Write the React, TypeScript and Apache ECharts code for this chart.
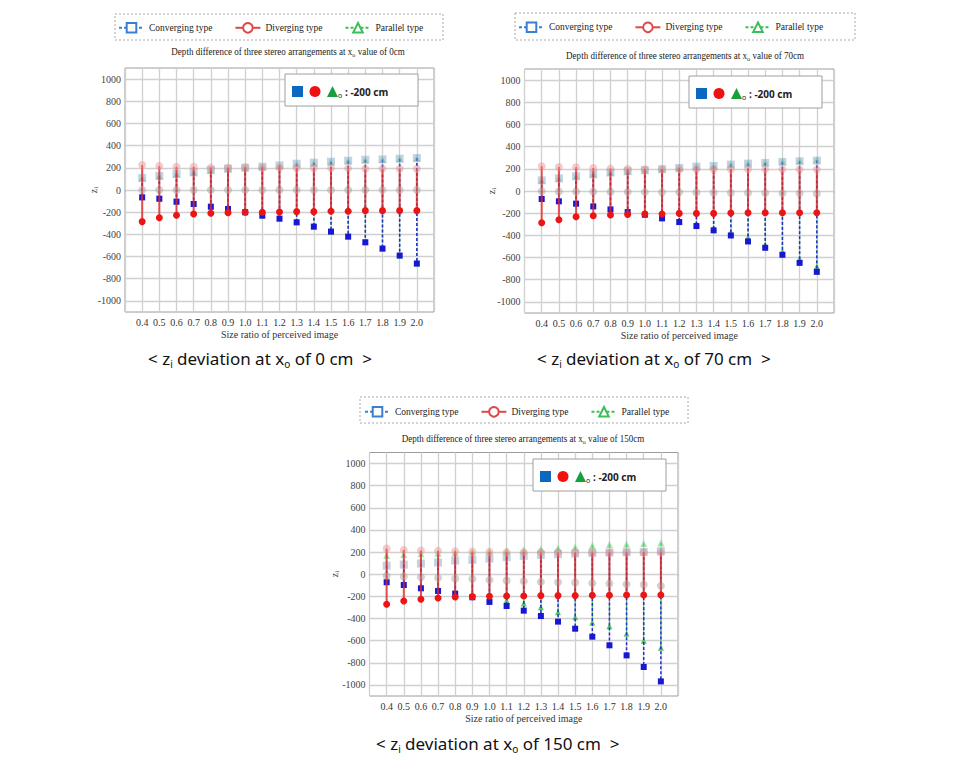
import React, { useEffect, useRef } from 'react';
import * as echarts from 'echarts';

// ---------- data ----------
const RATIOS = [0.4, 0.5, 0.6, 0.7, 0.8, 0.9, 1.0, 1.1, 1.2, 1.3, 1.4, 1.5, 1.6, 1.7, 1.8, 1.9, 2.0];
const LEGEND_NAMES = ['Converging type', 'Diverging type', 'Parallel type'];
const XO_TITLES = ['0cm', '70cm', '150cm'];
const XO_CAPTIONS = ['0 cm', '70 cm', '150 cm'];
const ZO_TEXT = ': -200 cm';
const X_NAME = 'Size ratio of perceived image';

// x_o = 0 cm
const divTop1 = [225, 216, 210, 210, 202, 200, 204, 200, 200, 198, 196, 195, 195, 193, 193, 192, 192];
const divMid1 = [0, 0, 0, 0, 0, 0, 0, 0, 0, 0, 0, 0, 0, 0, 0, 0, 0];
const divBot1 = [-285, -250, -228, -216, -210, -204, -200, -200, -198, -195, -195, -192, -192, -186, -186, -186, -186];
const conTop1 = [108, 126, 144, 159, 180, 192, 201, 210, 222, 237, 246, 255, 264, 273, 276, 282, 288];
const conBot1 = [-66, -78, -105, -126, -150, -171, -200, -231, -258, -291, -330, -375, -420, -471, -528, -591, -663];
const parTop1 = [108, 126, 144, 159, 180, 192, 201, 210, 222, 237, 246, 255, 264, 273, 276, 282, 288];
const parBot1 = [-66, -78, -105, -126, -150, -171, -200, -231, -258, -291, -330, -375, -420, -471, -528, -591, -663];

// x_o = 70 cm
const divTop2 = [223, 217, 214, 208, 202, 199, 196, 196, 195, 195, 195, 195, 195, 195, 195, 195, 195];
const divMid2 = [-3, -4, -5, -6, -8, -9, -10, -11, -12, -13, -15, -16, -17, -18, -20, -21, -23];
const divBot2 = [-286, -259, -232, -223, -217, -211, -208, -208, -202, -202, -202, -199, -196, -196, -196, -196, -196];
const conTop2 = [96, 114, 133, 151, 166, 178, 187, 196, 208, 220, 226, 238, 247, 253, 262, 268, 274];
const conBot2 = [-72, -93, -114, -139, -166, -190, -214, -247, -280, -316, -355, -401, -455, -512, -575, -648, -729];
const parTop2 = [98, 116, 135, 153, 168, 181, 190, 200, 212, 224, 231, 243, 252, 259, 268, 275, 281];
const parBot2 = [-70, -90, -110, -134, -160, -184, -207, -236, -266, -298, -333, -372, -418, -485, -545, -612, -680];

// x_o = 150 cm
const divTop3 = [232, 220, 214, 211, 208, 205, 202, 200, 199, 198, 198, 197, 197, 197, 196, 196, 196];
const divMid3 = [-15, -21, -27, -33, -39, -42, -51, -57, -63, -69, -72, -75, -81, -84, -90, -93, -105];
const divBot3 = [-271, -241, -226, -214, -205, -202, -199, -196, -196, -193, -193, -193, -190, -190, -187, -187, -187];
const conTop3 = [78, 87, 97, 106, 124, 130, 142, 154, 166, 175, 181, 187, 193, 196, 199, 202, 208];
const conBot3 = [-72, -97, -127, -151, -175, -208, -250, -287, -329, -377, -428, -492, -564, -642, -733, -838, -968];
const parTop3 = [170, 178, 185, 190, 195, 200, 207, 214, 221, 229, 238, 247, 259, 268, 271, 277, 283];
const parBot3 = [-70, -94, -118, -136, -160, -193, -218, -238, -265, -299, -344, -389, -437, -470, -537, -600, -663];

const PANELS = [
  { divTop: divTop1, divMid: divMid1, divBot: divBot1, conTop: conTop1, conBot: conBot1, parTop: parTop1, parBot: parBot1 },
  { divTop: divTop2, divMid: divMid2, divBot: divBot2, conTop: conTop2, conBot: conBot2, parTop: parTop2, parBot: parBot2 },
  { divTop: divTop3, divMid: divMid3, divBot: divBot3, conTop: conTop3, conBot: conBot3, parTop: parTop3, parBot: parBot3 },
];

// ---------- layout ----------
const GRIDS = [
  { left: 125, top: 68, width: 309, height: 244 },
  { left: 524.5, top: 69, width: 309.5, height: 244 },
  { left: 369.5, top: 452.5, width: 308.5, height: 243.5 },
];
const LEGENDS = [
  { left: 118, top: 22, box: [115, 14, 328, 26] },
  { left: 518, top: 21.5, box: [515, 13, 340, 27] },
  { left: 364, top: 406, box: [360, 397, 328, 26] },
];
const TITLES = [{ x: 288, y: 51 }, { x: 685, y: 55 }, { x: 523, y: 438 }];
const YNAMES = [{ x: 93, y: 190 }, { x: 491, y: 191 }, { x: 334, y: 574 }];
const INSETS = [{ x: 285, y: 74 }, { x: 689, y: 76 }, { x: 533, y: 459 }];
const CAPTIONS = [{ x: 148, y: 358 }, { x: 537, y: 358 }, { x: 376, y: 743 }];

const SERIF = "'Liberation Serif', 'Times New Roman', serif";
const SANS = "'Noto Sans', Lato, sans-serif";

const BLUE = '#1818d2';
const RED = '#ec1515';
const GREEN = '#36c04a';

function segData(top: number[], bot: number[]) {
  return RATIOS.map((r, i) => [r, top[i], bot[i]]);
}
function ptData(vals: number[]) {
  return RATIOS.map((r, i) => [r, vals[i]]);
}

function segSeries(gi: number, top: number[], bot: number[], style: any, z: number) {
  return {
    type: 'custom',
    xAxisIndex: gi,
    yAxisIndex: gi,
    silent: true,
    z,
    data: segData(top, bot),
    encode: { x: 0, y: [1, 2] },
    renderItem: (_p: any, api: any) => {
      const x = api.value(0);
      const a = api.coord([x, api.value(1)]);
      const b = api.coord([x, api.value(2)]);
      return {
        type: 'line',
        shape: { x1: a[0], y1: a[1], x2: b[0], y2: b[1] },
        style,
      };
    },
  };
}

function ptSeries(gi: number, vals: number[], symbol: string, size: number, color: string, opacity: number, z: number) {
  return {
    type: 'scatter',
    xAxisIndex: gi,
    yAxisIndex: gi,
    silent: true,
    z,
    symbol,
    symbolSize: size,
    itemStyle: { color, opacity },
    data: ptData(vals),
  };
}

function buildOption() {
  const grid = GRIDS.map((g) => ({
    ...g,
    show: true,
    borderColor: '#9c9c9c',
    borderWidth: 1,
    backgroundColor: '#fff',
  }));

  const xAxis = GRIDS.map((_g, i) => ({
    type: 'value',
    gridIndex: i,
    min: 0.3,
    max: 2.1,
    interval: 0.1,
    name: X_NAME,
    nameLocation: 'middle',
    nameGap: 17,
    nameTextStyle: { fontFamily: SERIF, fontSize: 10, color: '#333' },
    axisLine: { show: false },
    axisTick: { show: true, length: 2, lineStyle: { color: '#bdbdbd' } },
    axisLabel: {
      fontFamily: SERIF,
      fontSize: 10,
      color: '#333',
      margin: 5,
      showMinLabel: true,
      showMaxLabel: true,
      formatter: (v: number) => (v < 0.35 || v > 2.05 ? '' : v.toFixed(1)),
    },
    splitLine: { show: true, lineStyle: { color: '#d0d0d0', width: 1.3 } },
  }));

  const yAxis = GRIDS.map((_g, i) => ({
    type: 'value',
    gridIndex: i,
    min: -1100,
    max: 1100,
    interval: 100,
    axisLine: { show: false },
    axisTick: { show: false },
    axisLabel: {
      fontFamily: SERIF,
      fontSize: 10,
      color: '#444',
      margin: 4,
      formatter: (v: number) => (v % 200 === 0 ? String(v) : ''),
    },
    splitLine: { show: true, lineStyle: { color: ['rgba(0,0,0,0)', '#d0d0d0'], width: 1.3 } },
  }));

  const series: any[] = [
    {
      type: 'line', name: LEGEND_NAMES[0], xAxisIndex: 0, yAxisIndex: 0, data: [],
      symbol: 'rect', itemStyle: { color: '#ffffff', borderColor: '#3b7fd0', borderWidth: 1 },
      lineStyle: { color: '#3b7fd0', type: [3, 2], width: 1 },
    },
    {
      type: 'line', name: LEGEND_NAMES[1], xAxisIndex: 0, yAxisIndex: 0, data: [],
      symbol: 'circle', itemStyle: { color: '#ffffff', borderColor: '#e04848', borderWidth: 1 },
      lineStyle: { color: '#e04848', type: 'solid', width: 1 },
    },
    {
      type: 'line', name: LEGEND_NAMES[2], xAxisIndex: 0, yAxisIndex: 0, data: [],
      symbol: 'triangle', itemStyle: { color: '#ffffff', borderColor: '#3cbf58', borderWidth: 1 },
      lineStyle: { color: '#3cbf58', type: [3, 2], width: 1 },
    },
  ];

  PANELS.forEach((p, gi) => {
    series.push(segSeries(gi, p.parTop, p.parBot, { stroke: GREEN, lineWidth: 1.3, lineDash: [3, 2], opacity: 0.8 }, 2));
    series.push(ptSeries(gi, p.parTop, 'triangle', 7, '#5fd06e', 0.55, 3));
    series.push(ptSeries(gi, p.parBot, 'triangle', 6, GREEN, 0.85, 3));
    series.push(segSeries(gi, p.conTop, p.conBot, { stroke: '#2232c8', lineWidth: 1.5, lineDash: [3, 2] }, 4));
    series.push(ptSeries(gi, p.conTop, 'rect', 8, '#86a8c8', 0.5, 5));
    series.push(ptSeries(gi, p.conBot, 'rect', 6, BLUE, 1, 5));
    series.push(segSeries(gi, p.divTop, p.divBot, { stroke: 'rgba(228,40,40,0.8)', lineWidth: 2 }, 6));
    series.push(ptSeries(gi, p.divTop, 'circle', 8, '#f08a8a', 0.45, 7));
    series.push(ptSeries(gi, p.divMid, 'circle', 8, '#a89494', 0.45, 7));
    series.push(ptSeries(gi, p.divBot, 'circle', 7, RED, 1, 8));
  });

  const legend = LEGENDS.map((l) => ({
    left: l.left,
    top: l.top,
    padding: 0,
    data: LEGEND_NAMES,
    itemWidth: 25,
    itemHeight: 12,
    itemGap: 22,
    selectedMode: false,
    textStyle: { fontFamily: SERIF, fontSize: 9.5, color: '#222' },
  }));

  const graphic: any[] = [];
  LEGENDS.forEach((l) => {
    graphic.push({
      type: 'rect', silent: true, z: 1,
      shape: { x: l.box[0], y: l.box[1], width: l.box[2], height: l.box[3] },
      style: { fill: 'none', stroke: '#a8a8a8', lineWidth: 1, lineDash: [2, 2] },
    });
  });
  TITLES.forEach((t, i) => {
    graphic.push({
      type: 'text', silent: true, x: t.x, y: t.y, scaleX: 0.86, z: 10,
      style: {
        text: 'Depth difference of three stereo arrangements at x{s|o} value of ' + XO_TITLES[i],
        fontFamily: SERIF, fontSize: 10.5, fill: '#222', align: 'center', verticalAlign: 'middle', lineHeight: 14,
        rich: { s: { fontFamily: SERIF, fontSize: 7, lineHeight: 7, verticalAlign: 'bottom', fill: '#222' } },
      },
    });
  });
  YNAMES.forEach((t) => {
    graphic.push({
      type: 'text', silent: true, x: t.x, y: t.y, rotation: Math.PI / 2, z: 10,
      style: {
        text: 'z{s|i}',
        fontFamily: SERIF, fontSize: 10, fill: '#333', align: 'center', verticalAlign: 'middle', lineHeight: 12,
        rich: { s: { fontFamily: SERIF, fontSize: 7, lineHeight: 6, verticalAlign: 'bottom', fill: '#333' } },
      },
    });
  });
  INSETS.forEach((b) => {
    const Z = 60;
    graphic.push({
      type: 'group', x: b.x, y: b.y, z: Z, silent: true,
      children: [
        { type: 'rect', z: Z, shape: { x: 0, y: 0, width: 133, height: 32 }, style: { fill: '#fff', stroke: '#9e9e9e', lineWidth: 1 } },
        { type: 'rect', z: Z + 1, shape: { x: 7, y: 12, width: 11, height: 11 }, style: { fill: '#0a68c0' } },
        { type: 'circle', z: Z + 1, shape: { cx: 30, cy: 17.5, r: 5.5 }, style: { fill: '#f01010' } },
        { type: 'polygon', z: Z + 1, shape: { points: [[42, 23], [47.5, 12], [53, 23]] }, style: { fill: '#18a040' } },
        { type: 'text', z: Z + 1, x: 53, y: 21, style: { text: 'o', fontFamily: SANS, fontSize: 7, fill: '#222', verticalAlign: 'middle' } },
        { type: 'text', z: Z + 1, x: 60, y: 17.5, style: { text: ZO_TEXT, fontFamily: SANS, fontSize: 10, fontWeight: 'bold', fill: '#222', verticalAlign: 'middle' } },
      ],
    });
  });
  CAPTIONS.forEach((c, i) => {
    graphic.push({
      type: 'text', silent: true, x: c.x, y: c.y, z: 10,
      style: {
        text: '< z{s|i} deviation at x{s|o} of ' + XO_CAPTIONS[i] + '  >',
        fontFamily: SANS, fontSize: 17, fontWeight: 'normal', fill: '#111', verticalAlign: 'middle', lineHeight: 22,
        rich: { s: { fontFamily: SANS, fontSize: 10, lineHeight: 9, verticalAlign: 'bottom', fill: '#111' } },
      },
    });
  });

  return {
    animation: false,
    backgroundColor: '#ffffff',
    grid,
    xAxis,
    yAxis,
    legend,
    series,
    graphic,
  };
}

export default function App() {
  const ref = useRef<HTMLDivElement | null>(null);
  useEffect(() => {
    if (!ref.current) return;
    const chart = echarts.init(ref.current, undefined, { renderer: 'svg' });
    chart.setOption(buildOption() as any);
    return () => chart.dispose();
  }, []);
  return (
    <div
      ref={ref}
      style={{ position: 'fixed', left: 0, top: 0, width: 958, height: 771, background: '#fff' }}
    />
  );
}
